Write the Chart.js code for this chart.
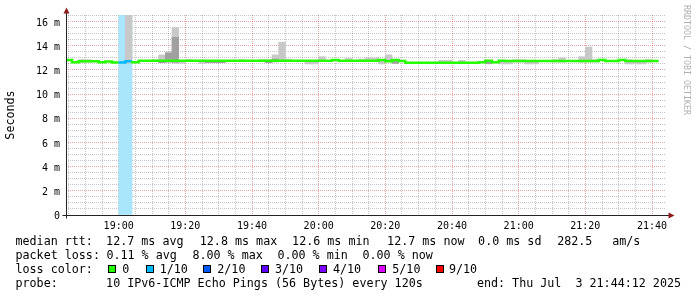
<!DOCTYPE html>
<html>
<head>
<meta charset="utf-8">
<script src="https://cdn.jsdelivr.net/npm/chart.js@4.4.1/dist/chart.umd.min.js"></script>
<style>
  html, body { margin: 0; padding: 0; background: #fff; }
  #wrap { position: relative; width: 697px; height: 297px; overflow: hidden; }
  #smokeChart { position: absolute; left: 0; top: 0; }
  .lg { position: absolute; font-family: 'DejaVu Sans Mono', monospace; font-size: 11.7px; line-height: 14px; color: #000; white-space: pre; }
  .box { position: absolute; top: 265px; width: 6px; height: 6px; border: 1px solid #000; }
  #mark { position: absolute; left: 682px; top: 5px; writing-mode: vertical-rl; font-family: 'DejaVu Sans Mono', monospace; font-size: 8.3px; line-height: 10px; color: #b0b0b0; white-space: pre; }
</style>
</head>
<body>
<div id="wrap">
  <canvas id="smokeChart" width="697" height="297"></canvas>
  <div id="mark">RRDTOOL / TOBI OETIKER</div>

  <span class="lg" style="left:15.5px;top:234px">median rtt:</span>
  <span class="lg" style="left:106.1px;top:234px">12.7 ms avg</span>
  <span class="lg" style="left:199.8px;top:234px">12.8 ms max</span>
  <span class="lg" style="left:292.1px;top:234px">12.6 ms min</span>
  <span class="lg" style="left:387.1px;top:234px">12.7 ms now</span>
  <span class="lg" style="left:478.1px;top:234px">0.0 ms sd</span>
  <span class="lg" style="left:557.2px;top:234px">282.5</span>
  <span class="lg" style="left:612.2px;top:234px">am/s</span>

  <span class="lg" style="left:15.5px;top:248px">packet loss:</span>
  <span class="lg" style="left:106.4px;top:248px">0.11 % avg</span>
  <span class="lg" style="left:192.4px;top:248px">8.00 % max</span>
  <span class="lg" style="left:277.4px;top:248px">0.00 % min</span>
  <span class="lg" style="left:362.5px;top:248px">0.00 % now</span>

  <span class="lg" style="left:15.5px;top:262px">loss color:</span>
  <span class="box" style="left:108px;background:#26ff00"></span><span class="lg" style="left:122.3px;top:262px">0</span>
  <span class="box" style="left:145.5px;background:#00b8ff"></span><span class="lg" style="left:159.7px;top:262px">1/10</span>
  <span class="box" style="left:203px;background:#0059ff"></span><span class="lg" style="left:217.3px;top:262px">2/10</span>
  <span class="box" style="left:261px;background:#5e00ff"></span><span class="lg" style="left:275px;top:262px">3/10</span>
  <span class="box" style="left:319px;background:#7e00ff"></span><span class="lg" style="left:333px;top:262px">4/10</span>
  <span class="box" style="left:378px;background:#dd00ff"></span><span class="lg" style="left:392.3px;top:262px">5/10</span>
  <span class="box" style="left:435.5px;background:#ff0000"></span><span class="lg" style="left:449px;top:262px">9/10</span>

  <span class="lg" style="left:15.5px;top:276px">probe:</span>
  <span class="lg" style="left:106.1px;top:276px">10 IPv6-ICMP Echo Pings (56 Bytes) every 120s</span>
  <span class="lg" style="right:16px;top:276px">end: Thu Jul  3 21:44:12 2025</span>
</div>
<script>
// time axis in minutes after 18:00, one step = 120 s
const rangeStart = 44.2;   // 18:44:12
const rangeEnd = 224.2;    // 21:44:12
const firstStep = 44;
const stepMinutes = 2;

const xTickMinutes = [60, 80, 100, 120, 140, 160, 180, 200, 220];
const xTickLabels = ['19:00', '19:20', '19:40', '20:00', '20:20', '20:40', '21:00', '21:20', '21:40'];

// median rtt per step (ms)
const medianRtt = [
    12.73, 12.82, 12.65, 12.73, 12.73, 12.72, 12.65, 12.71, 12.62, 12.62,
    12.73, 12.65, 12.77, 12.77, 12.77, 12.77, 12.77, 12.77, 12.77, 12.77,
    12.77, 12.77, 12.77, 12.77, 12.77, 12.77, 12.77, 12.77, 12.77, 12.77,
    12.77, 12.77, 12.77, 12.77, 12.77, 12.77, 12.77, 12.77, 12.77, 12.77,
    12.77, 12.82, 12.77, 12.77, 12.77, 12.77, 12.77, 12.77, 12.82, 12.72,
    12.82, 12.74, 12.60, 12.60, 12.60, 12.60, 12.60, 12.60, 12.60, 12.60,
    12.60, 12.60, 12.60, 12.65, 12.77, 12.65, 12.77, 12.74, 12.74, 12.74,
    12.74, 12.74, 12.74, 12.74, 12.74, 12.74, 12.74, 12.74, 12.74, 12.74,
    12.74, 12.82, 12.74, 12.74, 12.82, 12.74, 12.74, 12.74, 12.74
];

// lost pings out of 10 per step
const lossLevel = [
    0, 0, 0, 0, 0, 0, 0, 0, 1, 1,
    0, 0, 0, 0, 0, 0, 0, 0, 0, 0,
    0, 0, 0, 0, 0, 0, 0, 0, 0, 0,
    0, 0, 0, 0, 0, 0, 0, 0, 0, 0,
    0, 0, 0, 0, 0, 0, 0, 0, 0, 0,
    0, 0, 0, 0, 0, 0, 0, 0, 0, 0,
    0, 0, 0, 0, 0, 0, 0, 0, 0, 0,
    0, 0, 0, 0, 0, 0, 0, 0, 0, 0,
    0, 0, 0, 0, 0, 0, 0, 0, 0
];
const lossColors = ['#26ff00', '#00b8ff', '#0059ff', '#5e00ff', '#7e00ff', '#dd00ff', '#dd00ff', '#dd00ff', '#dd00ff', '#ff0000', '#ff0000'];

// smoke: fastest / slowest ping per step (ms), null = hidden under the median line
const smokeMin = [
    null, null, 12.60, 12.65, null, null, null, null, null, 12.55,
    null, null, null, 12.70, 12.60, 12.60, 12.55, 12.55, 12.70, null,
    12.55, null, null, null, null, null, 12.70, null, null, 12.70,
    12.62, 12.65, 12.70, 12.70, null, null, 12.50, 12.50, 12.70, null,
    null, null, 12.70, null, 12.70, 12.70, 12.70, 12.50, 12.70, 12.55,
    null, null, null, null, null, null, 12.55, 12.55, null, 12.55,
    null, null, null, 12.50, null, 12.50, 12.50, 12.65, 12.65, 12.50,
    12.50, null, null, 12.65, 12.65, null, null, 12.65, 12.65, 12.65,
    null, null, null, null, 12.50, 12.50, 12.50, 12.65, null
];
const smokeMax = [
    null, null, 12.86, 12.85, null, null, null, null, null, 17.00,
    null, null, null, 12.86, 13.25, 13.50, 15.50, 12.80, 12.86, null,
    12.80, null, null, null, null, null, 12.86, null, null, 12.86,
    12.86, 13.25, 14.30, 12.90, null, null, 12.80, 12.80, 13.10, null,
    null, null, 12.95, null, 12.90, 13.00, 13.00, 12.80, 13.25, 12.80,
    null, null, null, null, null, null, 12.80, 12.80, null, 12.80,
    null, null, null, 12.70, null, 12.70, 12.80, 12.86, 12.86, 12.76,
    12.76, null, null, 12.86, 13.00, null, null, 13.10, 13.90, 12.86,
    null, null, null, null, 12.85, 12.76, 12.76, 12.86, null
];
// denser middle of the smoke
const coreMin = [
    null, null, null, null, null, null, null, null, null, null,
    null, null, null, null, 12.60, 12.70, 12.65, null, null, null,
    null, 12.60, 12.60, 12.60, null, null, null, null, null, null,
    12.60, 12.70, null, null, null, null, null, null, null, null,
    null, null, null, null, null, null, null, null, null, 12.55,
    null, null, null, null, null, null, null, null, null, null,
    null, null, null, 12.52, null, null, null, null, null, null,
    null, null, null, null, null, null, null, null, null, null,
    null, null, null, null, null, null, null, null, null
];
const coreMax = [
    null, null, null, null, null, null, null, null, null, null,
    null, null, null, null, 12.75, 13.40, 14.70, null, null, null,
    null, 12.75, 12.75, 12.75, null, null, null, null, null, null,
    12.75, 12.90, null, null, null, null, null, null, null, null,
    null, null, null, null, null, null, null, null, null, 12.70,
    null, null, null, null, null, null, null, null, null, null,
    null, null, null, 12.65, null, null, null, null, null, null,
    null, null, null, null, null, null, null, null, null, null,
    null, null, null, null, null, null, null, null, null
];

const yMax = 16.55;
const majorGrid = 'rgba(200, 60, 60, 0.45)';
const minorGrid = 'rgba(0, 0, 0, 0.22)';
const monoFont = 'DejaVu Sans Mono';

const stepTimes = medianRtt.map((v, i) => firstStep + i * stepMinutes);
const barAt = (lo, hi) => stepTimes.map((t, i) => ({
    x: t + stepMinutes / 2,
    y: (lo[i] === null || hi[i] === null) ? null : [lo[i], hi[i]]
}));

const lossBars = stepTimes.map((t, i) => ({ x: t + stepMinutes / 2, y: lossLevel[i] > 0 ? [0, yMax] : null }));
const medianLine = stepTimes.map((t, i) => ({ x: t, y: medianRtt[i] }));
medianLine.push({ x: stepTimes[stepTimes.length - 1] + stepMinutes, y: medianRtt[medianRtt.length - 1] });

const rrdAxes = {
    id: 'rrdAxes',
    afterDatasetsDraw(chart) {
        const { ctx, chartArea: a } = chart;
        const yb = Math.round(a.bottom) + 0.5;
        const xl = Math.round(a.left) + 0.5;
        ctx.save();
        ctx.strokeStyle = '#222';
        ctx.lineWidth = 1;
        ctx.beginPath();
        ctx.moveTo(xl - 4, yb);
        ctx.lineTo(a.right + 3, yb);
        ctx.moveTo(xl, yb + 3);
        ctx.lineTo(xl, a.top - 2);
        ctx.stroke();
        ctx.fillStyle = '#8b1a1a';
        ctx.beginPath();
        ctx.moveTo(xl, a.top - 7.5);
        ctx.lineTo(xl - 3, a.top - 1.5);
        ctx.lineTo(xl + 3, a.top - 1.5);
        ctx.closePath();
        ctx.fill();
        ctx.beginPath();
        ctx.moveTo(a.right + 8.5, yb);
        ctx.lineTo(a.right + 2.5, yb - 3);
        ctx.lineTo(a.right + 2.5, yb + 3);
        ctx.closePath();
        ctx.fill();
        ctx.restore();
    }
};

const smokeChart = new Chart(document.getElementById('smokeChart'), {
    type: 'bar',
    data: {
        datasets: [{
                type: 'line',
                data: medianLine,
                stepped: 'after',
                borderWidth: 2.5,
                borderColor: lossColors[0],
                segment: {
                    borderColor: c => lossColors[lossLevel[c.p0DataIndex]]
                },
                pointRadius: 0,
                fill: false,
                order: 0
            }, {
                data: barAt(coreMin, coreMax),
                backgroundColor: '#a0a0a0',
                grouped: false,
                barPercentage: 1,
                categoryPercentage: 1,
                borderWidth: 0,
                order: 1
            }, {
                data: barAt(smokeMin, smokeMax),
                backgroundColor: '#c8c8c8',
                grouped: false,
                barPercentage: 1,
                categoryPercentage: 1,
                borderWidth: 0,
                order: 2
            }, {
                data: lossBars,
                backgroundColor: '#a9e5fb',
                grouped: false,
                barPercentage: 1,
                categoryPercentage: 1,
                borderWidth: 0,
                order: 3
            }]
    },
    options: {
        responsive: false,
        animation: false,
        events: [],
        layout: {
            padding: { top: 15, right: 31, left: 0, bottom: 0 }
        },
        plugins: {
            legend: { display: false },
            tooltip: { enabled: false }
        },
        scales: {
            x: {
                type: 'linear',
                position: 'bottom',
                min: rangeStart,
                max: rangeEnd,
                offset: false,
                afterFit: s => { s.height = 82; },
                afterBuildTicks: s => { s.ticks = xTickMinutes.map(v => ({ value: v })); },
                ticks: {
                    autoSkip: false,
                    maxRotation: 0,
                    padding: 5,
                    color: '#000',
                    font: { family: monoFont, size: 10 },
                    callback: v => xTickLabels[xTickMinutes.indexOf(v)]
                },
                grid: { color: majorGrid, drawTicks: false, offset: false },
                border: { display: false, dash: [1, 1] }
            },
            xMinor: {
                type: 'linear',
                position: 'bottom',
                min: rangeStart,
                max: rangeEnd,
                offset: false,
                afterFit: s => { s.height = 0; },
                afterBuildTicks: s => {
                    let t = [];
                    for (let v = 45; v < rangeEnd; v += 5) {
                        if (v % 20 !== 0) t.push({ value: v });
                    }
                    s.ticks = t;
                },
                ticks: { display: false },
                grid: { color: minorGrid, drawTicks: false, offset: false },
                border: { display: false, dash: [1, 1] }
            },
            y: {
                type: 'linear',
                position: 'left',
                min: 0,
                max: yMax,
                afterFit: s => { s.width = 66; },
                ticks: {
                    stepSize: 2,
                    includeBounds: false,
                    padding: 6,
                    labelOffset: 1.5,
                    color: '#000',
                    font: { family: monoFont, size: 10 },
                    callback: v => v === 0 ? '0' : v + ' m'
                },
                grid: { color: majorGrid, drawTicks: false },
                border: { display: false, dash: [1, 1] },
                title: {
                    display: true,
                    text: 'Seconds',
                    color: '#000',
                    font: { family: monoFont, size: 11.7 },
                    padding: { top: 4, bottom: 0 }
                }
            },
            yMinor: {
                type: 'linear',
                position: 'left',
                min: 0,
                max: yMax,
                afterFit: s => { s.width = 0; },
                afterBuildTicks: s => {
                    let t = [];
                    for (let v = 0.5; v < yMax; v += 0.5) {
                        if (v % 2 !== 0) t.push({ value: v });
                    }
                    s.ticks = t;
                },
                ticks: { display: false },
                grid: { color: minorGrid, drawTicks: false },
                border: { display: false, dash: [1, 1] }
            }
        }
    },
    plugins: [rrdAxes]
});
</script>
</body>
</html>
